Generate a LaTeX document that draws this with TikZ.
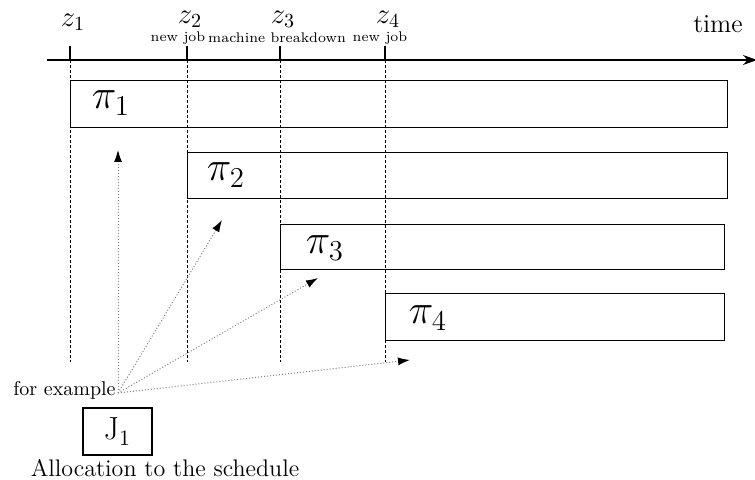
\documentclass[tikz,border=0pt]{standalone}
\usepackage{amsmath}
\usetikzlibrary{arrows.meta,positioning}

\begin{document}
\begin{tikzpicture}[x=0.5pt,y=-0.5pt,
  slot/.style={draw,line width=0.6pt,anchor=north west,inner sep=0pt},
  guide/.style={line width=0.4pt,dash pattern=on 1.5pt off 1pt},
  alloc/.style={gray,densely dotted,line width=0.5pt,-{Latex[length=6pt,width=4pt,black]}},
  event/.style={inner sep=0pt,font=\scriptsize}]
  \useasboundingbox (0,0) rectangle (755,480);
  % time axis
  \coordinate (t0) at (47,60);
  \coordinate (t1) at (757,60);
  \draw[line width=0.6pt,-{Stealth[length=7pt,width=5pt]}] (t0) -- (t1);
  \node at (718,24) {\fontsize{13}{15}\selectfont time};
  % event times
  \foreach \n/\xx/\yy in {1/70/22,2/187/19,3/280/19,4/385/19}{
    \coordinate (z\n) at (\xx,60);
    \coordinate (e\n) at (\xx,362);
    \draw[line width=0.6pt] (\xx,46) -- (z\n);
    \draw[guide] (z\n) -- (e\n);
    \node[inner sep=0pt] (lz\n) at (\xx+3,\yy) {\Large $z_{\n}$};
  }
  \node[event] (ev2) at (178,38) {new job};
  \node[event] (ev3) at (277,38) {machine breakdown};
  \node[event] (ev4) at (380,38) {new job};
  % schedules
  \node[slot,minimum width=328.5pt,minimum height=23.5pt] (p1) at (70,80) {};
  \node[slot,minimum width=270pt,minimum height=23pt] (p2) at (187,152) {};
  \node[slot,minimum width=222pt,minimum height=22.5pt] (p3) at (280,224) {};
  \node[slot,minimum width=169.5pt,minimum height=23.5pt] (p4) at (385,293) {};
  \node at (111,103) {\fontsize{19.5}{22}\selectfont $\pi_1$};
  \node at (226,175) {\fontsize{19.5}{22}\selectfont $\pi_2$};
  \node at (325,248) {\fontsize{19.5}{22}\selectfont $\pi_3$};
  \node at (428,318) {\fontsize{19.5}{22}\selectfont $\pi_4$};
  % allocation of the job
  \coordinate (src) at (118,393);
  \node[left=1pt of src,yshift=1.5pt,inner sep=0pt] (ex) {for example};
  \coordinate (a1) at (118,150);
  \coordinate (a2) at (222,220);
  \coordinate (a3) at (318,278);
  \coordinate (a4) at (410,360);
  \foreach \k in {1,...,4}
    \draw[alloc] (src) -- (a\k);
  \node[draw,line width=0.6pt,minimum width=34.5pt,minimum height=23.5pt,inner sep=0pt] (job) at (117.5,431.5) {\fontsize{16}{18}\selectfont J$_1$};
  \node (cap) at (165,468) {\large Allocation to the schedule};
\end{tikzpicture}
\end{document}
